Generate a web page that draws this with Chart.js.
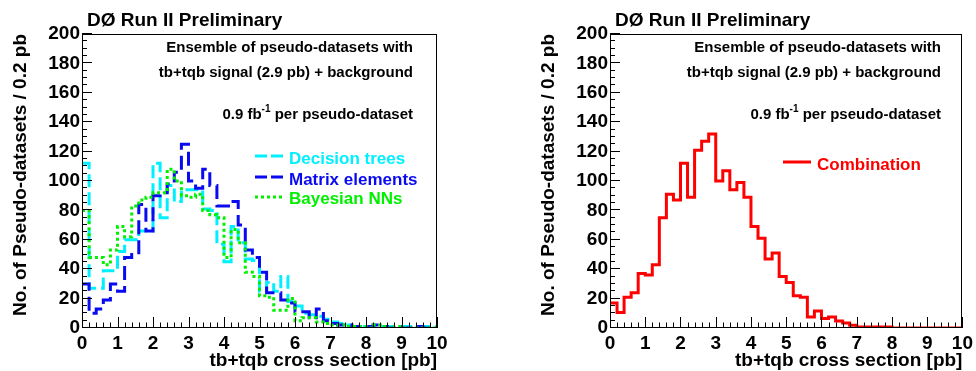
<!DOCTYPE html>
<html><head><meta charset="utf-8">
<script src="https://cdn.jsdelivr.net/npm/chart.js@4.4.1/dist/chart.umd.min.js"></script>
<style>
html,body{margin:0;padding:0;background:#fff;}
#wrap{position:relative;width:976px;height:371px;overflow:hidden;background:#fff;}
canvas{position:absolute;top:0;}
</style></head><body>
<div id="wrap">
<canvas id="c1" width="488" height="371" style="left:0px"></canvas>
<canvas id="c2" width="449" height="371" style="left:528px"></canvas>
</div>
<script>
// ---- data ----
const binWidth = 0.2;            // pb per bin
const xTickValues = [0,1,2,3,4,5,6,7,8,9,10];
const yTickValues = [0,20,40,60,80,100,120,140,160,180,200];

const decisionTrees = [112,27,27,39,39,52,60,60,66,66,112,75,97,86,94,94,94,81,80,57,45,69,58,47,46,25,31,25,35,18,15,10,9,8,6,4,3,2,1,1,1,1,1,1,1,1,1,1,1,1];
const matrixElements = [30,10,13,19,30,25,48,50,84,66,90,92,98,106,125,100,95,108,97,83,83,86,70,53,48,38,24,24,19,17,11,11,7,13,5,3,2,2,1,0,1,2,1,0,1,0,0,1,0,0];
const bayesianNNs = [80,48,48,43,53,69,62,83,87,89,92,92,108,100,90,89,91,80,77,75,48,67,58,38,35,22,21,12,12,20,5,7,7,4,3,2,2,1,1,1,0,2,1,0,1,0,0,0,0,0];
const combination = [17,10.5,21,24,37,36,43,75,91,87,112,89,121,127,132,100,107,94,99,89,69,61,47,51,35,31,22,21,7.5,11.5,6.5,7.5,4.8,3.4,1.8,0.7,0.7,0.7,0.7,0.7,0,0,0,0,0,0,0,0,0,0];

// ---- helpers ----
const FONT = '"Liberation Sans", Arial, Helvetica, sans-serif';
function histPoints(vals){
  const pts = vals.map((v,i)=>({x: Math.round(i*binWidth*10)/10, y: v}));
  pts.push({x: Math.round(vals.length*binWidth*10)/10, y: vals[vals.length-1]});
  return pts;
}
function hist(label, vals, color, dash, order){
  return {label, data: histPoints(vals), borderColor: color, borderWidth: 3,
    borderDash: dash, pointRadius: 0, stepped: 'before', tension: 0, fill: false, order,
    borderCapStyle: 'butt', borderJoinStyle: 'miter'};
}

const rootDecor = {
  id: 'rootDecor',
  afterDatasetsDraw(chart, args, opts){
    const {ctx, chartArea: a} = chart;
    const x = chart.scales.x, y = chart.scales.y;
    ctx.save();
    ctx.strokeStyle = '#000'; ctx.lineWidth = 1;
    ctx.strokeRect(Math.round(a.left)+0.5, Math.round(a.top)+0.5, Math.round(a.right-a.left)-1, Math.round(a.bottom-a.top)-1);
    ctx.beginPath();
    for (let i=0;i<=50;i++){
      const px = Math.round(x.getPixelForValue(i*binWidth))+0.5;
      const len = (i%5===0)?11:5.5;
      ctx.moveTo(px, a.bottom); ctx.lineTo(px, a.bottom-len);
    }
    for (let i=0;i<=40;i++){
      const py = Math.round(y.getPixelForValue(i*5))-0.5;
      const len = (i%4===0)?10:5;
      ctx.moveTo(a.left, py); ctx.lineTo(a.left+len, py);
    }
    ctx.stroke();

    function txt(s, tx, ty, size, color, align){
      ctx.font = 'bold '+size+'px '+FONT;
      ctx.fillStyle = color; ctx.textAlign = align||'left'; ctx.textBaseline = 'alphabetic';
      ctx.fillText(s, tx, ty);
    }
    // title
    txt('D\u00D8 Run II Preliminary', 87, 26, 19, '#000', 'left');
    // axis titles
    txt('tb+tqb cross section [pb]', a.right, 366, 19, '#000', 'right');
    ctx.save();
    ctx.translate(26, a.top);
    ctx.rotate(-Math.PI/2);
    txt('No. of Pseudo-datasets / 0.2 pb', 0, 0, 19, '#000', 'right');
    ctx.restore();
    // annotations
    const rx = a.left + 331;
    txt('Ensemble of pseudo-datasets with', rx, 52, 15, '#000', 'right');
    txt('tb+tqb signal (2.9 pb) + background', rx, 77, 15, '#000', 'right');
    ctx.font = 'bold 15px '+FONT; const w1 = ctx.measureText('0.9 fb').width; const w3 = ctx.measureText(' per pseudo-dataset').width;
    ctx.font = 'bold 10px '+FONT; const w2 = ctx.measureText('-1').width;
    const sx = rx - (w1+w2+w3);
    txt('0.9 fb', sx, 119, 15, '#000', 'left');
    txt('-1', sx+w1, 112, 10, '#000', 'left');
    txt(' per pseudo-dataset', sx+w1+w2, 119, 15, '#000', 'left');
    // legend
    (opts.legend||[]).forEach(e=>{
      ctx.save();
      ctx.strokeStyle = e.color; ctx.lineWidth = 3; ctx.setLineDash(e.dash||[]);
      ctx.beginPath(); ctx.moveTo(255, e.ly); ctx.lineTo(283, e.ly); ctx.stroke();
      ctx.restore();
      txt(e.text, 289, e.ty, 17, e.color, 'left');
    });
    ctx.restore();
  }
};

function makeChart(id, datasets, padRight, legend){
  return new Chart(document.getElementById(id), {
    type: 'line',
    data: {datasets},
    options: {
      responsive: false, animation: false, devicePixelRatio: 1,
      layout: {padding: {left: 0, right: padRight, top: 34, bottom: 0}},
      plugins: {legend: {display: false}, tooltip: {enabled: false}, rootDecor: {legend}},
      scales: {
        x: {type: 'linear', min: 0, max: 10,
          grid: {display: false, drawTicks: false}, border: {display: false},
          afterBuildTicks: s => { s.ticks = xTickValues.map(v => ({value: v})); },
          ticks: {autoSkip: false, maxRotation: 0, padding: 4, color: '#000', font: {family: FONT, size: 19, weight: 'bold'}},
          afterFit: s => { s.height = 43; }},
        y: {type: 'linear', min: 0, max: 200,
          grid: {display: false, drawTicks: false}, border: {display: false},
          afterBuildTicks: s => { s.ticks = yTickValues.map(v => ({value: v})); },
          ticks: {autoSkip: false, padding: 2, color: '#000', font: {family: FONT, size: 19, weight: 'bold'}},
          afterFit: s => { s.width = 82; }}
      }
    },
    plugins: [rootDecor]
  });
}

makeChart('c1', [
  hist('Decision trees', decisionTrees, '#00f0ff', [13,5], 2),
  hist('Matrix elements', matrixElements, '#0a0af0', [14,6], 1),
  hist('Bayesian NNs', bayesianNNs, '#00f000', [3,3], 0)
], 51, [
  {text: 'Decision trees', color: '#00f0ff', dash: [12,4], ly: 156, ty: 164},
  {text: 'Matrix elements', color: '#0a0af0', dash: [12,4], ly: 177, ty: 185},
  {text: 'Bayesian NNs', color: '#00f000', dash: [3,3], ly: 197, ty: 204}
]);

makeChart('c2', [
  hist('Combination', combination, '#ff0000', [], 0)
], 11, [
  {text: 'Combination', color: '#ff0000', dash: [], ly: 162, ty: 170}
]);
</script>
</body></html>
